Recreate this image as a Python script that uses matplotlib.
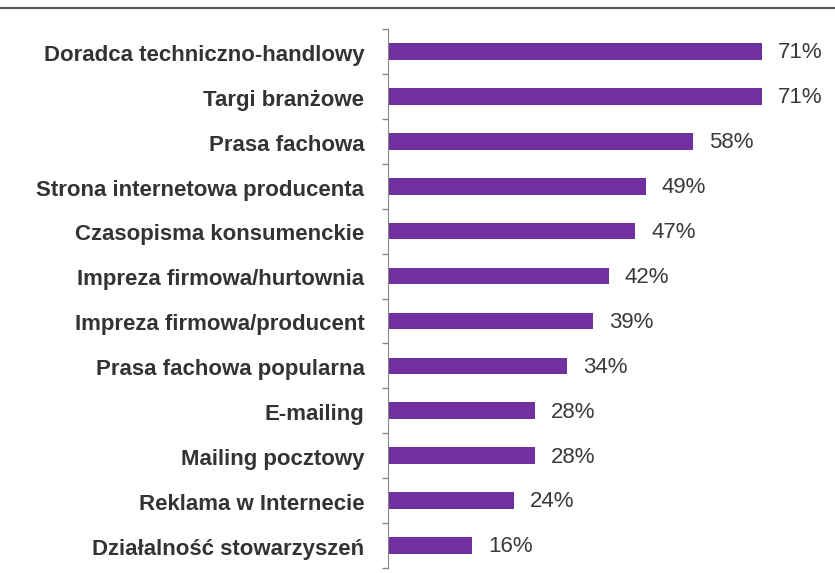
import numpy as np
import matplotlib.pyplot as plt
from matplotlib.lines import Line2D

categories = ['Doradca techniczno-handlowy', 'Targi branżowe', 'Prasa fachowa',
              'Strona internetowa producenta', 'Czasopisma konsumenckie',
              'Impreza firmowa/hurtownia', 'Impreza firmowa/producent',
              'Prasa fachowa popularna', 'E-mailing', 'Mailing pocztowy',
              'Reklama w Internecie', 'Działalność stowarzyszeń']
values = [71, 71, 58, 49, 47, 42, 39, 34, 28, 28, 24, 16]

plt.rcParams['font.family'] = ['Liberation Sans', 'DejaVu Sans']

fig = plt.figure(figsize=(8.35, 5.73), dpi=100)
fig.patch.set_facecolor('white')
ax = fig.add_axes([388/835, 5/573, 447/835, 539/573])

y = np.arange(len(categories))
ax.barh(y, values, height=0.37, color='#7030A0')
ax.set_ylim(len(categories) - 0.5, -0.5)
ax.set_xlim(0, 84.9)

# value labels right of the bars
for yi, v in zip(y, values):
    ax.text(v + 3.0, yi + 0.03, f'{v}%', va='center', ha='left', fontsize=16, color='#3a3a3a')

ax.set_yticks(y + 0.03)
ax.set_yticklabels(categories, fontsize=16, fontweight='bold', color='#333333')
ax.tick_params(axis='y', which='major', length=0, pad=17)
ax.set_yticks(np.arange(-0.5, len(categories), 1), minor=True)
ax.tick_params(axis='y', which='minor', length=4, color='#888888', width=1)
ax.set_xticks([])

for s in ['top', 'right', 'bottom']:
    ax.spines[s].set_visible(False)
ax.spines['left'].set_color('#888888')

fig.add_artist(Line2D([0, 1], [1 - 8/573, 1 - 8/573], color='#555555', lw=1.5,
                      transform=fig.transFigure))

fig.savefig('out.png', dpi=100)
